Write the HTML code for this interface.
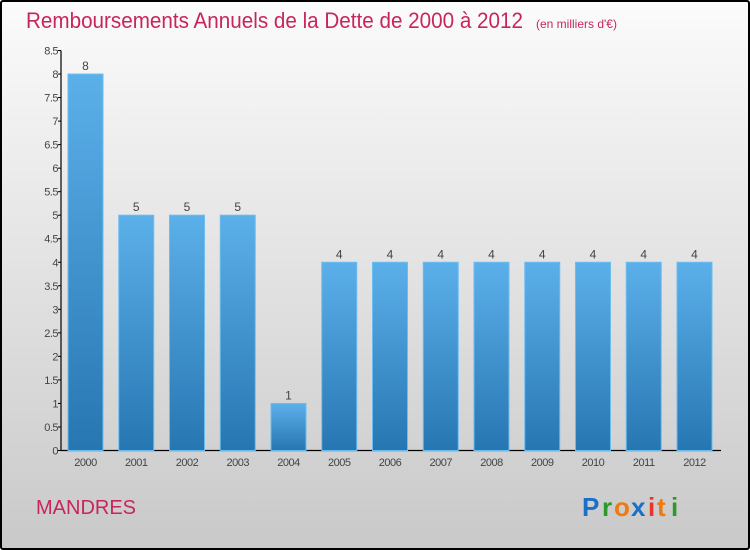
<!DOCTYPE html>
<html><head><meta charset="utf-8"><style>
html,body{margin:0;padding:0}
body{width:750px;height:550px;overflow:hidden;font-family:"Liberation Sans",sans-serif}
#frame{position:absolute;left:0;top:0;width:746px;height:546px;border:2px solid #000;border-radius:3px;background:linear-gradient(#fbfbfb,#c9c9c9)}
</style></head><body>
<div id="frame"></div>
<svg id="c" width="750" height="550" style="position:absolute;left:0;top:0">
<defs><linearGradient id="g" x1="0" y1="0" x2="0" y2="1"><stop offset="0" stop-color="#5cb0ea"/><stop offset="1" stop-color="#2676b2"/></linearGradient></defs>
<text x="26" y="28" font-size="22" fill="#c8265a" textLength="497" lengthAdjust="spacingAndGlyphs">Remboursements Annuels de la Dette de 2000 à 2012</text>
<text x="536" y="28" font-size="12" fill="#c8265a">(en milliers d'€)</text>
<text x="36" y="514" font-size="20" fill="#c8265a">MANDRES</text>
<g font-size="26" font-weight="bold"><text x="582" y="516" fill="#1a6fc8">P</text><text x="602" y="516" fill="#2a9a2a">r</text><text x="614" y="516" fill="#f07a10">o</text><text x="631" y="516" fill="#1a6fc8">x</text><text x="648" y="516" fill="#e8352a">i</text><text x="657" y="516" fill="#f07a10">t</text><text x="671" y="516" fill="#2a9a2a">i</text></g>
<g id="ax"></g><g id="bars"></g>
</svg>
<script>
const categories=["2000","2001","2002","2003","2004","2005","2006","2007","2008","2009","2010","2011","2012"];
const values=[8,5,5,5,1,4,4,4,4,4,4,4,4];
const ticks=[0,0.5,1,1.5,2,2.5,3,3.5,4,4.5,5,5.5,6,6.5,7,7.5,8,8.5];
const tickLabels=["0","0.5","1","1.5","2","2.5","3","3.5","4","4.5","5","5.5","6","6.5","7","7.5","8","8.5"];
const NS="http://www.w3.org/2000/svg";
const y0=450.5,y1=50.5,vmax=8.5,xL=61,xR=721,step=50.75,bw=35,firstC=85.5;
const y=v=>y0-(v/vmax)*(y0-y1);
const x=i=>firstC+i*step;
function mk(t,a,p){const e=document.createElementNS(NS,t);for(const k in a)e.setAttribute(k,a[k]);p.appendChild(e);return e;}
const ax=document.getElementById('ax'),bars=document.getElementById('bars');
let l=mk('line',{x1:xL,y1:y1,x2:xL,y2:y0,stroke:'#000','stroke-width':1.2},ax);


l=mk('line',{x1:xL,y1:y0,x2:xR,y2:y0,stroke:'#000','stroke-width':1.2},ax);


ticks.forEach((v,i)=>{
 mk('line',{x1:xL-3,y1:y(v),x2:xL,y2:y(v),stroke:'#000'},ax);
 const t=mk('text',{x:xL-3,y:y(v)+4,'font-size':11,fill:'#444','text-anchor':'end','letter-spacing':'-0.5'},ax);
 t.textContent=tickLabels[i];
 
 
});
categories.forEach((c,i)=>{
 const r=mk('rect',{x:x(i)-bw/2,y:y(values[i]),width:bw,height:y0-y(values[i]),fill:'url(#g)',stroke:'#6dbcf0','stroke-width':1},bars);
 
 
 const v=mk('text',{x:x(i),y:y(values[i])-4,'font-size':12,fill:'#444','text-anchor':'middle'},bars);
 v.textContent=values[i];
 
 
 const t=mk('text',{x:x(i),y:466,'font-size':11,fill:'#444','text-anchor':'middle','letter-spacing':'-0.5'},ax);
 t.textContent=c;
 
 
});
</script>
</body></html>
